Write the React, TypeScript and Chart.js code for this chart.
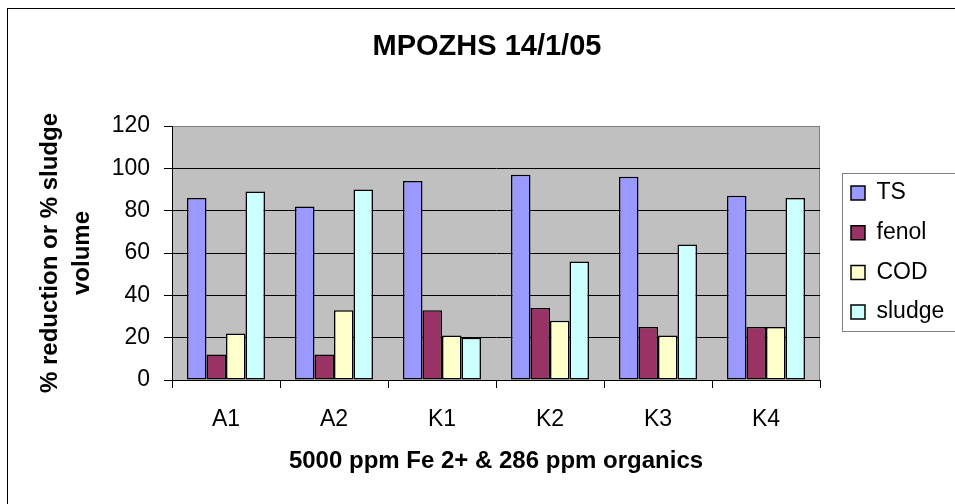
import React, { useEffect, useRef } from 'react';
import { Chart, registerables } from 'chart.js';

Chart.register(...registerables);

const categories = ['A1', 'A2', 'K1', 'K2', 'K3', 'K4'];
const seriesNames = ['TS', 'fenol', 'COD', 'sludge'];
const tsValues = [86, 82, 94, 97, 96, 87];
const fenolValues = [12, 12, 33, 34, 25, 25];
const codValues = [22, 33, 21, 28, 21, 25];
const sludgeValues = [89, 90, 20, 56, 64, 86];
const seriesColors = ['#9999FF', '#993366', '#FFFFCC', '#CCFFFF'];
const yTicks = [0, 20, 40, 60, 80, 100, 120];
const chartTitle = 'MPOZHS 14/1/05';
const xTitle = '5000 ppm Fe 2+ & 286 ppm organics';
const yTitle = ['% reduction or % sludge', 'volume'];

const FONT = "'Liberation Sans', Arial, Helvetica, sans-serif";

const framePlugin = {
  id: 'excelFrame',
  afterLayout(chart: any) {
    const t = chart.titleBlock;
    if (t) {
      t.left = 0;
      t.right = 974;
      t.width = 974;
    }
    const lg = chart.legend;
    if (lg) {
      lg.left = 834.3;
      lg.right = 955;
      lg.width = 955 - 834.3;
      lg.top = 164.8;
      lg.bottom = 504;
      lg.height = 504 - 164.8;
    }
  },
  beforeDraw(chart: any) {
    const { ctx, chartArea: a } = chart;
    ctx.save();
    ctx.fillStyle = '#C0C0C0';
    ctx.fillRect(a.left, a.top, a.right - a.left, a.bottom - a.top);
    ctx.strokeStyle = '#808080';
    ctx.lineWidth = 1;
    ctx.strokeRect(a.left + 0.5, a.top + 0.5, a.right - a.left - 1, a.bottom - a.top);
    ctx.strokeStyle = '#000000';
    ctx.strokeRect(7.5, 8.5, 1100, 1100);
    ctx.strokeStyle = '#808080';
    ctx.strokeRect(842.5, 173.5, 300, 158);
    ctx.restore();
  },
};

export default function App() {
  const canvasRef = useRef<HTMLCanvasElement | null>(null);

  useEffect(() => {
    if (!canvasRef.current) return;
    const values = [tsValues, fenolValues, codValues, sludgeValues];
    const chart = new Chart(canvasRef.current, {
      type: 'bar',
      data: {
        labels: categories,
        datasets: seriesNames.map((name, i) => ({
          label: name,
          data: values[i],
          backgroundColor: seriesColors[i],
          borderColor: '#000000',
          borderWidth: 1.5,
          borderSkipped: false,
          categoryPercentage: 0.722,
          barPercentage: 1,
        })),
      },
      options: {
        responsive: false,
        animation: false,
        devicePixelRatio: 1,
        events: [],
        layout: { padding: { left: 0, top: 0, right: 135, bottom: 0 } },
        plugins: {
          tooltip: { enabled: false },
          title: {
            display: true,
            text: chartTitle,
            color: '#000000',
            font: { family: FONT, size: 29, weight: 'bold' },
            padding: { top: 29.6, bottom: 61.6 },
          },
          legend: {
            display: true,
            position: 'chartArea',
            align: 'start',
            labels: {
              color: '#000000',
              font: { family: FONT, size: 23 },
              boxWidth: 14,
              boxHeight: 14,
              padding: 16.7,
            },
          },
        },
        scales: {
          x: {
            grid: {
              offset: true,
              drawOnChartArea: false,
              drawTicks: true,
              tickLength: 8,
              tickColor: '#000000',
              color: '#000000',
            },
            border: { display: true, color: '#000000', width: 1 },
            ticks: {
              color: '#000000',
              font: { family: FONT, size: 23 },
              padding: 17.5,
              maxRotation: 0,
            },
            title: {
              display: true,
              text: xTitle,
              color: '#000000',
              font: { family: FONT, size: 24, weight: 'bold' },
              padding: { top: 0, bottom: 28.6 },
            },
            afterFit: (scale: any) => {
              scale.height = 124;
            },
          },
          y: {
            min: yTicks[0],
            max: yTicks[yTicks.length - 1],
            grid: {
              color: (ctx: any) => (ctx.tick && ctx.tick.value === yTicks[yTicks.length - 1] ? '#808080' : '#000000'),
              tickColor: '#000000',
              drawTicks: true,
              tickLength: 8,
            },
            border: { display: true, color: '#000000', width: 1 },
            ticks: {
              stepSize: yTicks[1] - yTicks[0],
              color: '#000000',
              font: { family: FONT, size: 23 },
              padding: 14,
            },
            title: {
              display: true,
              text: yTitle,
              color: '#000000',
              font: { family: FONT, size: 24, weight: 'bold', lineHeight: 32 / 24 },
              padding: { top: 34, bottom: 0 },
            },
            afterFit: (scale: any) => {
              scale.width = 172;
            },
          },
        },
      } as any,
      plugins: [framePlugin],
    });
    return () => chart.destroy();
  }, []);

  return (
    <div style={{ position: 'absolute', left: 0, top: 0, width: 955, height: 504, background: '#ffffff' }}>
      <canvas ref={canvasRef} width={955} height={504} style={{ display: 'block' }} />
    </div>
  );
}
